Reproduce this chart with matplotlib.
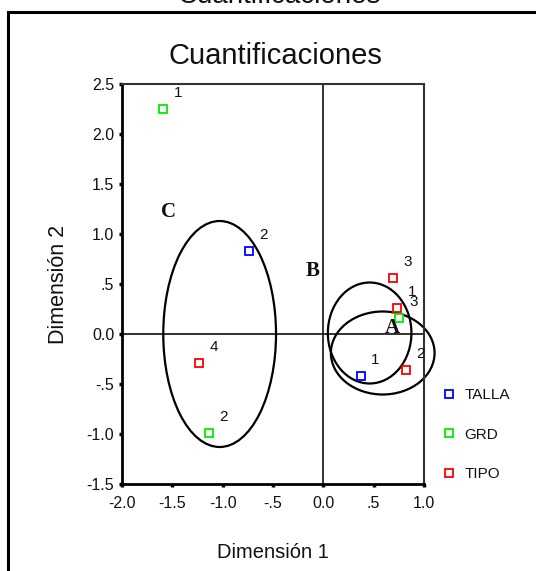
import matplotlib
matplotlib.use("Agg")
import matplotlib.pyplot as plt
from matplotlib.patches import Ellipse, Rectangle

plt.rcParams['font.family'] = ['Liberation Sans', 'DejaVu Sans']

# ---- data ----
talla_x = [0.37, -0.74]
talla_y = [-0.42, 0.83]
talla_lab = ["1", "2"]

grd_x = [-1.59, -1.14, 0.75]
grd_y = [2.25, -0.99, 0.16]
grd_lab = ["1", "2", "3"]

tipo_x = [0.73, 0.82, 0.69, -1.24]
tipo_y = [0.26, -0.36, 0.56, -0.29]
tipo_lab = ["1", "2", "3", "4"]

series_names = ["TALLA", "GRD", "TIPO"]
series_colors = ["#0000ff", "#00ee00", "#ff0000"]

# ellipses: center x, center y, width, height
ell_cx = [-1.03, 0.46, 0.59]
ell_cy = [0.0, 0.01, -0.19]
ell_w = [1.12, 0.83, 1.03]
ell_h = [2.26, 1.01, 0.83]

group_letters = ["A", "B", "C"]
group_x = [0.69, -0.11, -1.54]
group_y = [0.06, 0.63, 1.22]

xticks = [-2.0, -1.5, -1.0, -0.5, 0.0, 0.5, 1.0]
xticklabels = ["-2.0", "-1.5", "-1.0", "-.5", "0.0", ".5", "1.0"]
yticks = [-1.5, -1.0, -0.5, 0.0, 0.5, 1.0, 1.5, 2.0, 2.5]
yticklabels = ["-1.5", "-1.0", "-.5", "0.0", ".5", "1.0", "1.5", "2.0", "2.5"]

W, H = 536, 571
fig = plt.figure(figsize=(W / 100, H / 100), dpi=100)
ax = fig.add_axes([122 / W, 1 - 484 / H, 302 / W, 400 / H])

ax.set_xlim(-2.0, 1.0)
ax.set_ylim(-1.5, 2.5)

# reference lines
ax.axvline(0, color="#222222", lw=1.3, zorder=1)
ax.axhline(0, color="#222222", lw=1.3, zorder=1)

# ellipses
for cx, cy, w, h in zip(ell_cx, ell_cy, ell_w, ell_h):
    ax.add_patch(Ellipse((cx, cy), w, h, fill=False, ec="black", lw=1.6,
                         clip_on=False, zorder=2))

handles = []
for xs, ys, labs, name, col in zip([talla_x, grd_x, tipo_x],
                                   [talla_y, grd_y, tipo_y],
                                   [talla_lab, grd_lab, tipo_lab],
                                   series_names, series_colors):
    h, = ax.plot(xs, ys, ls="none", marker="s", ms=5.2, mfc="white",
                 mec=col, mew=1.3, label=name, zorder=3, clip_on=False)
    handles.append(h)
    for x, y, t in zip(xs, ys, labs):
        ax.annotate(t, (x, y), xytext=(10.8, 11.2), textcoords="offset points",
                    ha="center", va="center", fontsize=11, color="#111111",
                    zorder=4, annotation_clip=False)

for t, x, y in zip(group_letters, group_x, group_y):
    ax.text(x, y, t, fontsize=15, fontweight="bold",
            family=["Liberation Serif", "DejaVu Serif"],
            ha="center", va="center", color="#111111", zorder=4)

ax.set_xticks(xticks)
ax.set_xticklabels(xticklabels)
ax.set_yticks(yticks)
ax.set_yticklabels(yticklabels)
ax.tick_params(axis="both", direction="out", length=2.5, width=2.5,
               labelsize=11.5, color="black", labelcolor="#111111")
ax.tick_params(axis="x", pad=6)
ax.tick_params(axis="y", pad=3)

for s in ["left", "bottom"]:
    ax.spines[s].set_linewidth(2.0)
    ax.spines[s].set_color("black")
for s in ["top", "right"]:
    ax.spines[s].set_linewidth(1.5)
    ax.spines[s].set_color("#333333")

ax.set_xlabel("Dimensión 1", fontsize=14.5, labelpad=23, color="#111111")
ax.set_ylabel("Dimensión 2", fontsize=15.5, labelpad=13, color="#111111")

leg = ax.legend(handles=handles, loc="upper left",
                bbox_to_anchor=(444 / W, 1 - 388 / H), bbox_transform=fig.transFigure,
                frameon=False, fontsize=11, handlelength=0.6, handletextpad=0.75,
                labelspacing=1.68, borderpad=0, borderaxespad=0)
for t in leg.get_texts():
    t.set_color("#111111")

# inner title
fig.text(275.5 / W, 1 - 64 / H, "Cuantificaciones", fontsize=21,
         ha="center", va="baseline", color="#111111")
# clipped outer title
fig.text(279 / W, 1 - 3.0 / H, "Cuantificaciones", fontsize=20,
         ha="center", va="baseline", color="#111111")

# outer frame
fig.patches.append(Rectangle((8 / W, -0.1), 2.0, 1 - 12 / H + 0.1,
                             transform=fig.transFigure, fill=False,
                             ec="black", lw=2.2))

fig.savefig("out.png", dpi=100)
